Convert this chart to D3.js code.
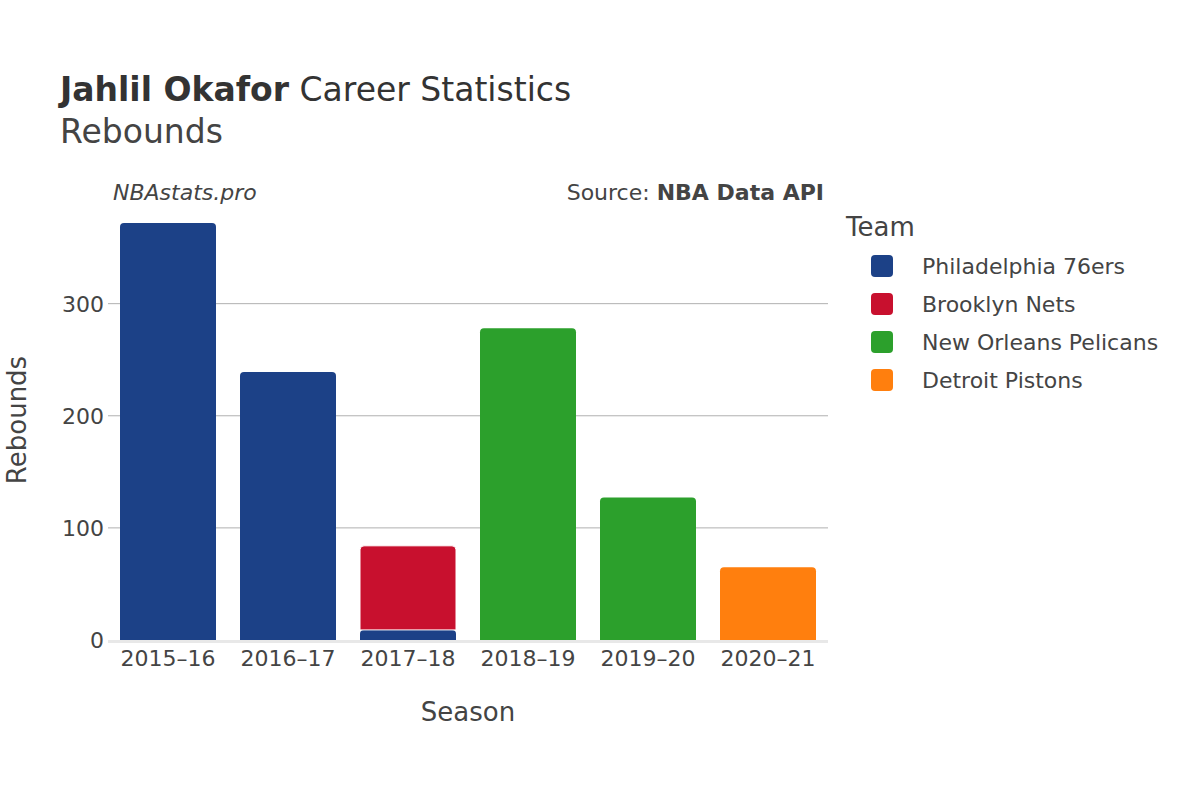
<!DOCTYPE html>
<html><head><meta charset="utf-8">
<script src="https://cdn.jsdelivr.net/npm/d3@7"></script>
<style>body{margin:0;background:#fff}text{font-family:"DejaVu Sans",sans-serif}</style>
</head><body>
<svg id="c" width="1200" height="800"></svg>
<script>
const seasons = ["2015–16","2016–17","2017–18","2018–19","2019–20","2020–21"];
const teams = ["Philadelphia 76ers","Brooklyn Nets","New Orleans Pelicans","Detroit Pistons"];
const colors = ["#1c4187","#c8102e","#2ca02c","#ff7f0e"];
const phi = [372,239,9,0,0,0];
const bkn = [0,0,75,0,0,0];
const nop = [0,0,0,278,127,0];
const det = [0,0,0,0,0,65];
const yTicks = [0,100,200,300];
const series = [phi,bkn,nop,det];

const svg = d3.select("#c");
const L=108,R=828,T=205,B=640;
const x = d3.scaleBand().domain(seasons).range([L,R]).paddingInner(0.2).paddingOuter(0.1);
const y = d3.scaleLinear().domain([0,388]).range([B,T]);

svg.append("g").selectAll("line").data(yTicks.filter(d=>d>0)).join("line")
 .attr("x1",L).attr("x2",R).attr("y1",d=>y(d)).attr("y2",d=>y(d)).attr("stroke","#b0b0b0").attr("stroke-width",1);
svg.append("line").attr("x1",L).attr("x2",R).attr("y1",B+1.5).attr("y2",B+1.5).attr("stroke","#e8e8e8").attr("stroke-width",3);

seasons.forEach((s,i)=>{
  let base=0;
  series.forEach((arr,k)=>{
    const v=arr[i]; if(!v) return;
    const y0=y(base), y1=y(base+v);
    const w=x.bandwidth(), r=Math.min(4,(y0-y1)/2);
    const x0=x(s);
    const p=`M${x0},${y0}V${y1+r}Q${x0},${y1} ${x0+r},${y1}H${x0+w-r}Q${x0+w},${y1} ${x0+w},${y1+r}V${y0}Z`;
    svg.append("path").attr("d",p).attr("fill",colors[k]).attr("stroke","#fff").attr("stroke-width",base>0?1:0);
    base+=v;
  });
});

svg.append("g").selectAll("text").data(yTicks).join("text")
 .attr("x",L-4).attr("y",d=>y(d)+8).attr("text-anchor","end").attr("font-size",22).attr("fill","#444").text(d=>d);
svg.append("g").selectAll("text").data(seasons).join("text")
 .attr("x",d=>x(d)+x.bandwidth()/2).attr("y",666).attr("text-anchor","middle").attr("font-size",22).attr("fill","#444").text(d=>d);

svg.append("text").attr("x",468).attr("y",721).attr("text-anchor","middle").attr("font-size",26).attr("fill","#444").text("Season");
svg.append("text").attr("transform","translate(26,420) rotate(-90)").attr("text-anchor","middle").attr("font-size",26).attr("fill","#444").text("Rebounds");

const t=svg.append("text").attr("x",60).attr("y",101).attr("font-size",33).attr("fill","#333");
t.append("tspan").attr("font-weight","bold").text("Jahlil Okafor");
t.append("tspan").text(" Career Statistics");
svg.append("text").attr("x",60).attr("y",143).attr("font-size",33).attr("fill","#444").text("Rebounds");
svg.append("text").attr("x",113).attr("y",200).attr("font-size",22).attr("font-style","italic").attr("fill","#444").text("NBAstats.pro");
const s2=svg.append("text").attr("x",824).attr("y",200).attr("text-anchor","end").attr("font-size",22).attr("fill","#444");
s2.append("tspan").text("Source: ");
s2.append("tspan").attr("font-weight","bold").text("NBA Data API");

svg.append("text").attr("x",846).attr("y",236).attr("font-size",26).attr("fill","#444").text("Team");
teams.forEach((tm,i)=>{
  const yy=266+i*38;
  svg.append("rect").attr("x",871).attr("y",yy-11).attr("width",22).attr("height",22).attr("rx",4).attr("fill",colors[i]);
  svg.append("text").attr("x",922).attr("y",yy+8).attr("font-size",22).attr("fill","#444").text(tm);
});
</script>
</body></html>
